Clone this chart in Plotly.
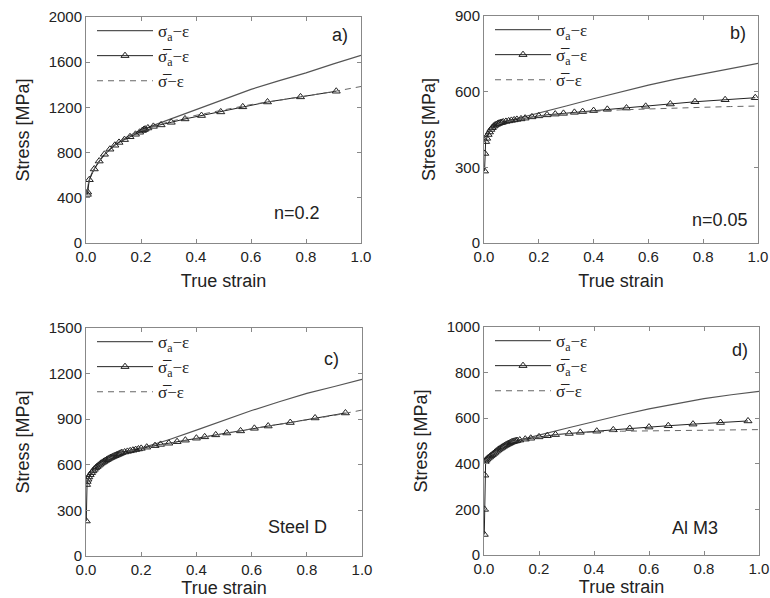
import plotly.graph_objects as go
from plotly.subplots import make_subplots

# ---- panel a) n=0.2 ----
a_sa_x = [0.0, 0.005, 0.01, 0.02, 0.03, 0.05, 0.07, 0.1, 0.15, 0.2, 0.25, 0.3, 0.4, 0.5, 0.6, 0.7, 0.8, 0.9, 1.0]
a_sa_y = [430, 470, 540, 610, 655, 730, 790, 860, 940, 1000, 1045, 1090, 1180, 1270, 1360, 1435, 1505, 1585, 1660]
a_sab_x = [0.005, 0.006, 0.012, 0.03, 0.048, 0.067, 0.087, 0.105, 0.12, 0.14, 0.16, 0.18, 0.195, 0.205,
           0.21, 0.215, 0.225, 0.245, 0.273, 0.31, 0.36, 0.42, 0.49, 0.57, 0.66, 0.78, 0.91]
a_sab_y = [430, 450, 560, 655, 725, 785, 830, 865, 890, 915, 940, 962, 980, 995,
           1003, 1008, 1018, 1032, 1045, 1068, 1098, 1128, 1160, 1205, 1248, 1293, 1343]
a_sb_x = [0.0, 0.005, 0.01, 0.02, 0.03, 0.05, 0.07, 0.1, 0.15, 0.2, 0.25, 0.3, 0.4, 0.5, 0.6, 0.7, 0.8, 0.9, 1.0]
a_sb_y = [430, 470, 540, 610, 655, 730, 790, 860, 940, 995, 1035, 1072, 1130, 1178, 1225, 1262, 1298, 1340, 1385]

# ---- panel b) n=0.05 ----
b_sa_x = [0.0, 0.005, 0.01, 0.02, 0.03, 0.05, 0.07, 0.1, 0.15, 0.2, 0.3, 0.4, 0.5, 0.6, 0.7, 0.8, 0.9, 1.0]
b_sa_y = [400, 412, 425, 443, 456, 470, 479, 487, 500, 515, 543, 572, 600, 626, 650, 670, 690, 712]
b_sab_x = [0.002, 0.003, 0.006, 0.01, 0.015, 0.02, 0.025, 0.03, 0.035, 0.04, 0.045, 0.05, 0.055, 0.06,
           0.065, 0.07, 0.08, 0.09, 0.1, 0.11, 0.12, 0.135, 0.15, 0.175, 0.2, 0.23, 0.26, 0.29,
           0.33, 0.36, 0.4, 0.45, 0.52, 0.59, 0.68, 0.77, 0.88, 0.99]
b_sab_y = [285, 355, 402, 415, 430, 440, 450, 457, 463, 467, 470, 473, 475, 477,
           478, 480, 482, 484, 486, 488, 490, 492, 495, 500, 504, 508, 511, 514,
           518, 521, 525, 530, 535, 542, 551, 560, 568, 576]
b_sb_x = [0.0, 0.005, 0.01, 0.02, 0.03, 0.05, 0.07, 0.1, 0.15, 0.2, 0.3, 0.4, 0.5, 0.6, 0.7, 0.8, 0.9, 1.0]
b_sb_y = [400, 412, 425, 443, 456, 470, 479, 486, 495, 504, 514, 522, 528, 532, 535, 538, 541, 543]

# ---- panel c) Steel D ----
c_sa_x = [0.0, 0.01, 0.02, 0.05, 0.08, 0.1, 0.13, 0.2, 0.3, 0.4, 0.5, 0.6, 0.7, 0.8, 0.9, 1.0]
c_sa_y = [480, 520, 548, 603, 638, 656, 682, 710, 765, 828, 893, 957, 1015, 1070, 1115, 1162]
c_sab_x = [0.001, 0.002, 0.004, 0.007, 0.01, 0.015, 0.02, 0.025, 0.03, 0.035, 0.04, 0.045, 0.05,
           0.055, 0.06, 0.065, 0.07, 0.075, 0.08, 0.085, 0.09, 0.095, 0.1, 0.105, 0.11, 0.115,
           0.12, 0.125, 0.13, 0.14, 0.15, 0.16, 0.17, 0.18, 0.19, 0.2, 0.22, 0.25, 0.27, 0.3,
           0.33, 0.36, 0.4, 0.43, 0.47, 0.51, 0.56, 0.61, 0.66, 0.74, 0.83, 0.94]
c_sab_y = [230, 470, 490, 505, 520, 535, 548, 560, 570, 580, 588, 596, 603,
           610, 616, 622, 628, 633, 638, 643, 648, 652, 656, 660, 664, 668,
           672, 676, 680, 684, 688, 692, 696, 700, 704, 708, 716, 726, 734, 742,
           752, 762, 775, 784, 797, 809, 823, 840, 855, 878, 908, 941]
c_sb_x = [0.0, 0.01, 0.02, 0.05, 0.08, 0.1, 0.13, 0.2, 0.3, 0.4, 0.5, 0.6, 0.7, 0.8, 0.9, 1.0]
c_sb_y = [480, 520, 548, 603, 638, 656, 680, 708, 742, 775, 806, 837, 866, 893, 925, 960]

# ---- panel d) Al M3 ----
d_sa_x = [0.0, 0.01, 0.02, 0.05, 0.08, 0.1, 0.12, 0.15, 0.2, 0.3, 0.4, 0.5, 0.6, 0.7, 0.8, 0.9, 1.0]
d_sa_y = [410, 420, 430, 460, 483, 495, 502, 510, 526, 556, 586, 614, 641, 665, 686, 703, 718]
d_sab_x = [0.001, 0.002, 0.003, 0.004, 0.006, 0.01, 0.015, 0.02, 0.025, 0.03, 0.035, 0.04, 0.045,
           0.05, 0.055, 0.06, 0.065, 0.07, 0.075, 0.08, 0.085, 0.09, 0.095, 0.1, 0.105, 0.11,
           0.115, 0.12, 0.13, 0.15, 0.17, 0.2, 0.23, 0.26, 0.31, 0.35, 0.41, 0.47, 0.53, 0.6,
           0.67, 0.76, 0.86, 0.96]
d_sab_y = [90, 200, 350, 410, 415, 420, 425, 430, 435, 440, 445, 450, 455,
           460, 464, 468, 472, 476, 480, 483, 486, 489, 492, 495, 497, 499,
           500, 502, 504, 508, 512, 518, 523, 528, 533, 538, 543, 549, 555, 561,
           567, 574, 581, 588]
d_sb_x = [0.0, 0.01, 0.02, 0.05, 0.08, 0.1, 0.12, 0.15, 0.2, 0.3, 0.4, 0.5, 0.6, 0.7, 0.8, 0.9, 1.0]
d_sb_y = [410, 420, 430, 460, 483, 495, 502, 508, 518, 532, 540, 543, 545, 547, 548, 549, 550]

y_max = [2000, 900, 1500, 1000]
y_dtick = [400, 300, 300, 200]
panel_tag = ["a)", "b)", "c)", "d)"]
panel_note = ["n=0.2", "n=0.05", "Steel D", "Al M3"]

label_sa = "σ<sub>a</sub>−ε"
label_sab = "σ\u0305<sub>a</sub>−ε"
label_sb = "σ\u0305−ε"

panels = [
    (a_sa_x, a_sa_y, a_sab_x, a_sab_y, a_sb_x, a_sb_y),
    (b_sa_x, b_sa_y, b_sab_x, b_sab_y, b_sb_x, b_sb_y),
    (c_sa_x, c_sa_y, c_sab_x, c_sab_y, c_sb_x, c_sb_y),
    (d_sa_x, d_sa_y, d_sab_x, d_sab_y, d_sb_x, d_sb_y),
]

W, H = 770, 598
# plot areas in pixels: (left, right, top, bottom)
boxes = [(86, 361, 17, 243), (484, 758, 16, 243), (86, 362, 328, 556), (484, 759, 327, 555)]
x_title_gap = [10, 10, 4, 4]

fig = make_subplots(rows=2, cols=2)
text_col = "#222222"
font = "Liberation Sans, Arial, sans-serif"

for i, (sx, sy, tx, ty, bx, by) in enumerate(panels):
    r, c = i // 2 + 1, i % 2 + 1
    leg = "legend" if i == 0 else "legend%d" % (i + 1)
    fig.add_trace(go.Scatter(x=sx, y=sy, mode="lines", name=label_sa, legend=leg,
                             line=dict(color="#555555", width=1.2)), row=r, col=c)
    fig.add_trace(go.Scatter(x=tx, y=ty, mode="lines+markers", name=label_sab, legend=leg,
                             line=dict(color="#222222", width=1),
                             marker=dict(symbol="triangle-up-open", size=7,
                                         color="#222222", line=dict(width=1))), row=r, col=c)
    fig.add_trace(go.Scatter(x=bx, y=by, mode="lines", name=label_sb, legend=leg,
                             line=dict(color="#666666", width=1, dash="6px,5px")), row=r, col=c)

layout_update = {}
for i, (l, rr, t, b) in enumerate(boxes):
    sfx = "" if i == 0 else str(i + 1)
    layout_update["xaxis" + sfx] = dict(
        domain=[l / W, rr / W], range=[0, 1], dtick=0.2, tickformat=".1f",
        ticks="inside", ticklen=4, mirror="ticks", showline=True, linecolor="#888888",
        linewidth=1, tickcolor="#888888", showgrid=False, zeroline=False, automargin=False,
        title=dict(text="True strain", standoff=x_title_gap[i], font=dict(size=18, color=text_col)),
        tickfont=dict(size=15, color=text_col), anchor="y" + sfx,
    )
    layout_update["yaxis" + sfx] = dict(
        domain=[1 - b / H, 1 - t / H], range=[0, y_max[i]], dtick=y_dtick[i],
        ticks="inside", ticklen=4, mirror="ticks", showline=True, linecolor="#888888",
        linewidth=1, tickcolor="#888888", showgrid=False, zeroline=False, automargin=False,
        title=dict(text="Stress [MPa]", standoff=14, font=dict(size=18, color=text_col)),
        tickfont=dict(size=15, color=text_col), anchor="x" + sfx,
    )
    leg = "legend" if i == 0 else "legend%d" % (i + 1)
    layout_update[leg] = dict(
        x=(l + 6) / W, y=1 - (t - 4) / H, xanchor="left", yanchor="top",
        bgcolor="rgba(0,0,0,0)", borderwidth=0, itemwidth=56,
        font=dict(family="Liberation Serif, Times New Roman, serif", size=17, color=text_col),
    )

fig.update_layout(**layout_update)

ann = []
tag_pos = [(0.96, 0.92), (0.963, 0.925), (0.924, 0.864), (0.967, 0.90)]
note_pos = [(0.858, 0.133), (0.97, 0.10), (0.88, 0.127), (0.858, 0.118)]
for i in range(4):
    sfx = "" if i == 0 else str(i + 1)
    ann.append(dict(text=panel_tag[i], xref="x%s domain" % sfx, yref="y%s domain" % sfx,
                    x=tag_pos[i][0], y=tag_pos[i][1], xanchor="right", yanchor="middle",
                    showarrow=False, font=dict(size=18, color=text_col)))
    ann.append(dict(text=panel_note[i], xref="x%s domain" % sfx, yref="y%s domain" % sfx,
                    x=note_pos[i][0], y=note_pos[i][1], xanchor="right", yanchor="middle",
                    showarrow=False, font=dict(size=18, color=text_col)))

fig.update_layout(
    annotations=ann,
    width=W, height=H,
    margin=dict(l=0, r=0, t=0, b=0),
    paper_bgcolor="white", plot_bgcolor="white",
    font=dict(family=font, color=text_col),
    showlegend=True,
)

# the page body has a default 8px margin; drop it so the figure sits at the window corner
fig.write_html("out.html", config={"displayModeBar": False},
               post_script="document.body.style.margin='0';")
